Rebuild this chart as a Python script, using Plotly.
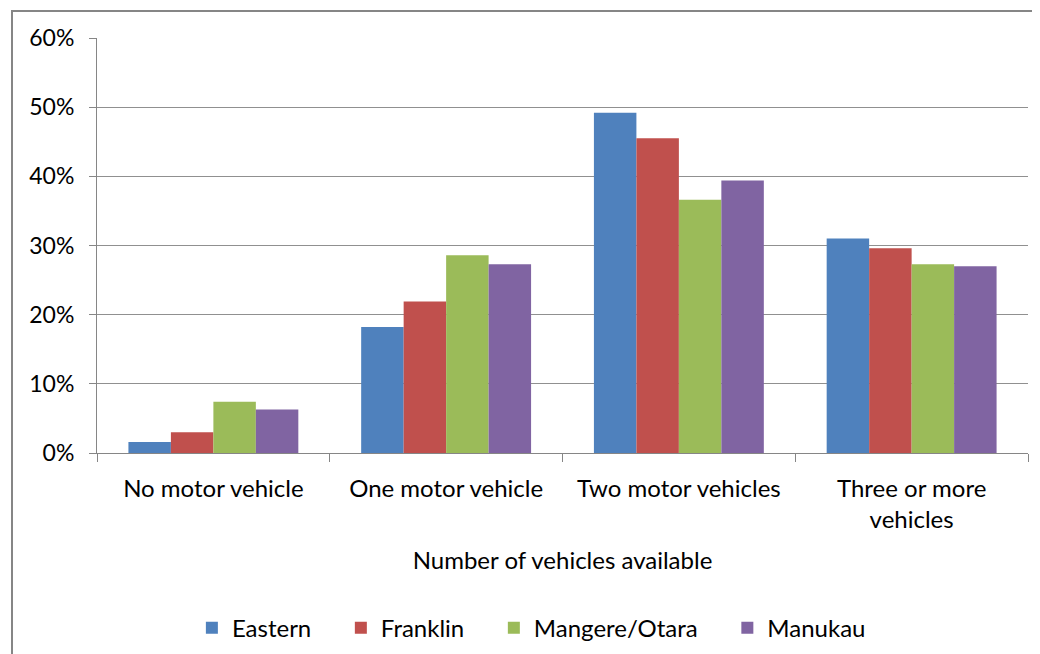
import plotly.graph_objects as go

categories = ["No motor vehicle", "One motor vehicle", "Two motor vehicles", "Three or more<br>vehicles"]
series_names = ["Eastern", "Franklin", "Mangere/Otara", "Manukau"]
eastern = [0.016, 0.182, 0.492, 0.310]
franklin = [0.030, 0.219, 0.455, 0.296]
mangere_otara = [0.074, 0.286, 0.366, 0.273]
manukau = [0.063, 0.273, 0.394, 0.270]
colors = ["#4F81BD", "#C0504D", "#9BBB59", "#8064A2"]
y_ticks = [0, 0.1, 0.2, 0.3, 0.4, 0.5, 0.6]

FONT = "Lato"
PAD = "\u00a0" * 4
fig = go.Figure()
for name, vals, col in zip(series_names, [eastern, franklin, mangere_otara, manukau], colors):
    fig.add_trace(go.Bar(x=categories, y=vals, name=name + PAD,
                         marker=dict(color=col, line=dict(width=0))))

fig.update_layout(
    width=1040, height=654,
    margin=dict(l=89, r=20, t=30, b=209),
    paper_bgcolor="white", plot_bgcolor="white",
    barmode="group", bargap=0.27, bargroupgap=0,
    font=dict(family=FONT, size=24, color="#000000"),
    showlegend=True,
    legend=dict(orientation="h", x=0.48, xanchor="center", y=-0.422, yanchor="middle",
                font=dict(family=FONT, size=24), itemwidth=30, tracegroupgap=0),
    xaxis=dict(type="category", tickson="boundaries", ticks="outside", ticklen=8,
               tickcolor="#868686", showline=True, linecolor="#868686", linewidth=1,
               showgrid=False, ticklabelstandoff=14,
               tickfont=dict(family=FONT, size=24),
               title=dict(text="Number of vehicles available", standoff=20,
                          font=dict(family=FONT, size=24))),
    yaxis=dict(range=[0, 0.6], tickvals=y_ticks, tickformat=".0%", ticks="outside", ticklen=7,
               tickcolor="#868686", showline=True, linecolor="#868686", linewidth=1,
               showgrid=True, gridcolor="#909090", gridwidth=1, zeroline=False,
               ticklabelstandoff=10, tickfont=dict(family=FONT, size=23)),
    shapes=[dict(type="rect", xref="paper", yref="paper",
                 x0=(12 - 97) / 931, x1=1.2, y0=-1.0, y1=1 + (38 - 11) / 415,
                 line=dict(color="#868686", width=2), fillcolor="rgba(0,0,0,0)", layer="below")],
)

fig.write_html("out.html")
